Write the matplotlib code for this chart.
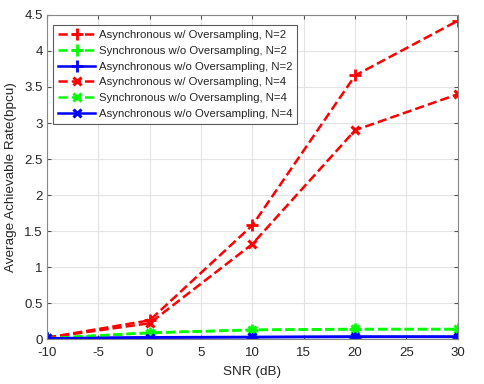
import matplotlib.pyplot as plt

plt.rcParams['font.family'] = ['Liberation Sans', 'DejaVu Sans']
plt.rcParams['axes.unicode_minus'] = False

snr = [-10, 0, 10, 20, 30]
async_os_n2 = [0.02, 0.26, 1.58, 3.66, 4.42]
sync_n2 = [0.01, 0.09, 0.13, 0.14, 0.14]
async_n2 = [0.01, 0.025, 0.03, 0.035, 0.035]
async_os_n4 = [0.02, 0.22, 1.32, 2.90, 3.40]
sync_n4 = [0.01, 0.085, 0.125, 0.135, 0.135]
async_n4 = [0.01, 0.02, 0.025, 0.03, 0.03]

green = '#00ff00'
fig = plt.figure(figsize=(4.84, 3.84), dpi=100)
ax = fig.add_axes([0.097, 0.117, 0.849, 0.844])

ax.plot(snr, async_os_n2, 'r--', marker='+', ms=9, mew=2, lw=1.8,
        label='Asynchronous w/ Oversampling, N=2')
ax.plot(snr, sync_n2, '--', color=green, marker='+', ms=9, mew=2, lw=1.8,
        label='Synchronous w/o Oversampling, N=2')
ax.plot(snr, async_n2, 'b-', marker='+', ms=9, mew=2, lw=1.8,
        label='Asynchronous w/o Oversampling, N=2')
ax.plot(snr, async_os_n4, 'r--', marker='x', ms=6, mew=2.2, lw=1.8,
        label='Asynchronous w/ Oversampling, N=4')
ax.plot(snr, sync_n4, '--', color=green, marker='x', ms=6, mew=2.2, lw=1.8,
        label='Synchronous w/o Oversampling, N=4')
ax.plot(snr, async_n4, 'b-', marker='x', ms=6, mew=2.2, lw=1.8,
        label='Asynchronous w/o Oversampling, N=4')

ax.set_xlim(-10, 30)
ax.set_ylim(0, 4.5)
ax.set_xticks(range(-10, 31, 5))
ax.set_yticks([0, 0.5, 1, 1.5, 2, 2.5, 3, 3.5, 4, 4.5])
ax.set_yticklabels(['0', '0.5', '1', '1.5', '2', '2.5', '3', '3.5', '4', '4.5'])
ax.tick_params(direction='in', labelsize=9.5, length=3, color='#555555',
               labelcolor='#262626', top=True, right=True, pad=3)
ax.tick_params(axis='x', pad=6)
ax.grid(True, color='#e3e3e3', lw=0.8)
ax.set_axisbelow(True)
for s in ax.spines.values():
    s.set_color('#888888')
ax.set_xlabel('SNR (dB)', fontsize=9.7, color='#262626', labelpad=5)
ax.set_ylabel('Average Achievable Rate(bpcu)', fontsize=9.7, color='#262626', labelpad=5)

leg = ax.legend(loc='upper left', fontsize=8.2, fancybox=False, edgecolor='#333333',
                handlelength=3.3, handletextpad=0.3, borderpad=0.45,
                labelspacing=0.5, borderaxespad=0,
                bbox_to_anchor=(0.014, 0.969))
leg.get_frame().set_linewidth(0.8)
for t in leg.get_texts():
    t.set_color('#262626')

fig.savefig('out.png', dpi=100)
